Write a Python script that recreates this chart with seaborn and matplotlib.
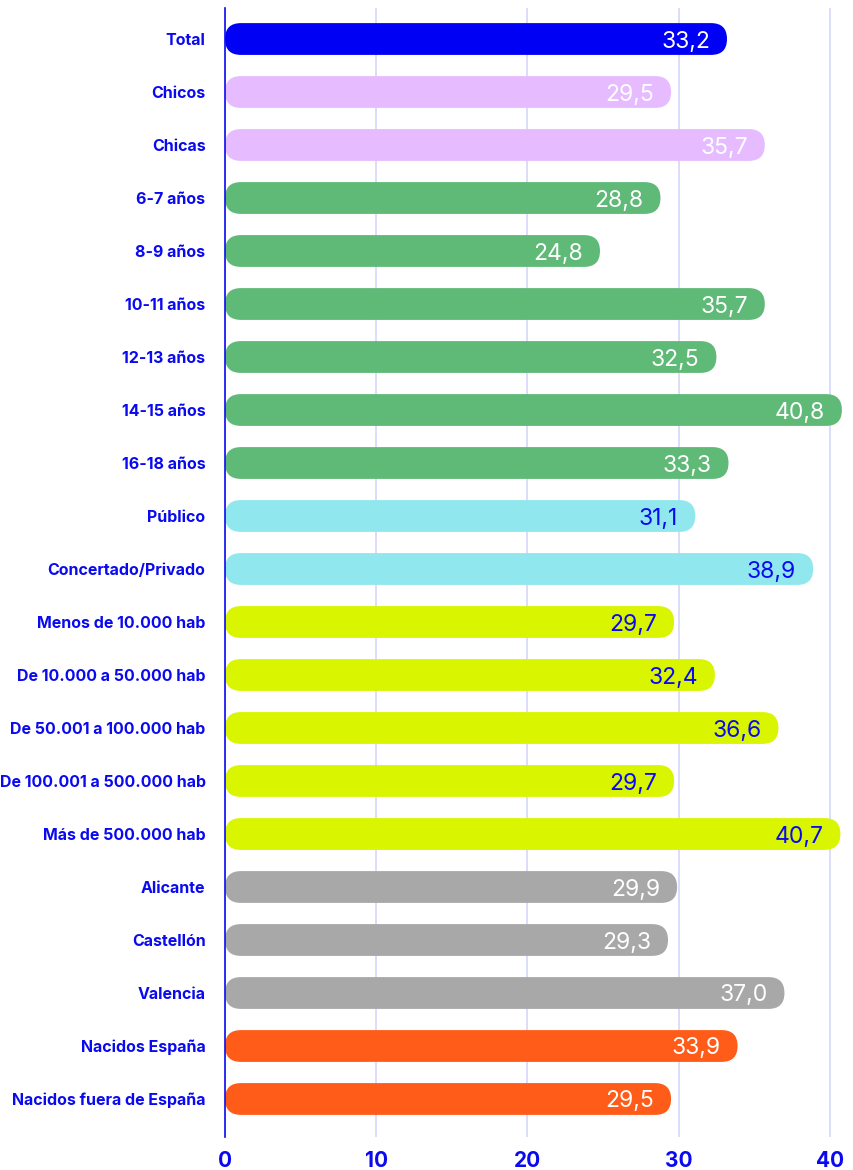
import matplotlib
matplotlib.use("Agg")
import matplotlib.pyplot as plt
from matplotlib.patches import FancyBboxPatch
import seaborn as sns
import pandas as pd

categories = [
    "Total", "Chicos", "Chicas",
    "6-7 años", "8-9 años", "10-11 años", "12-13 años", "14-15 años", "16-18 años",
    "Público", "Concertado/Privado",
    "Menos de 10.000 hab", "De 10.000 a 50.000 hab", "De 50.001 a 100.000 hab",
    "De 100.001 a 500.000 hab", "Más de 500.000 hab",
    "Alicante", "Castellón", "Valencia",
    "Nacidos España", "Nacidos fuera de España",
]
values = [
    33.2, 29.5, 35.7,
    28.8, 24.8, 35.7, 32.5, 40.8, 33.3,
    31.1, 38.9,
    29.7, 32.4, 36.6, 29.7, 40.7,
    29.9, 29.3, 37.0,
    33.9, 29.5,
]
groups = (["total"] + ["sexo"] * 2 + ["edad"] * 6 + ["centro"] * 2
          + ["habitat"] * 5 + ["provincia"] * 3 + ["origen"] * 2)
x_ticks = [0, 10, 20, 30, 40]

group_colors = {
    "total": "#0000f5",
    "sexo": "#e6bbff",
    "edad": "#5fb977",
    "centro": "#90e7ee",
    "habitat": "#d9f500",
    "provincia": "#a8a8a8",
    "origen": "#ff5b19",
}
label_colors = {
    "total": "white", "sexo": "white", "edad": "white",
    "centro": "#0a0af0", "habitat": "#0a0af0",
    "provincia": "white", "origen": "white",
}
BLUE = "#0a0af0"

df = pd.DataFrame({"categoria": categories, "valor": values, "grupo": groups})

sns.set_theme(style="white")
plt.rcParams["font.family"] = ["Inter", "DejaVu Sans"]

fig = plt.figure(figsize=(8.54, 11.70), dpi=100)
ax = fig.add_axes([225 / 854, 33 / 1170, 1 - 225 / 854, (1137 - 8) / 1170])

palette = [group_colors[g] for g in groups]
sns.barplot(data=df, x="valor", y="categoria", hue="categoria", palette=palette,
            orient="h", width=0.6, saturation=1, legend=False, ax=ax, zorder=3)

ax.set_xlim(0, 41.6)
ax.set_ylim(len(categories) - 1 + 0.717, -0.585)

# rounded bar ends: swap each rectangle for a rounded box of the same extent
fig.canvas.draw()
px_x = ax.transData.transform((1, 0))[0] - ax.transData.transform((0, 0))[0]
px_y = abs(ax.transData.transform((0, 1))[1] - ax.transData.transform((0, 0))[1])
aspect = px_x / px_y
for patch in list(ax.patches):
    x0, y0 = patch.get_x(), patch.get_y()
    w, h = patch.get_width(), patch.get_height()
    color = patch.get_facecolor()
    patch.set_visible(False)
    r = abs(h) / 2 / aspect
    ax.add_patch(FancyBboxPatch((x0, y0), w, h,
                                boxstyle=f"round,pad=0,rounding_size={r}",
                                mutation_aspect=aspect, facecolor=color,
                                edgecolor="none", zorder=3))

# value labels inside the bar ends
pad = 17 / px_x
for i, (v, g) in enumerate(zip(values, groups)):
    ax.text(v - pad, i, f"{v:.1f}".replace(".", ","), ha="right", va="center_baseline",
            fontsize=16.5, color=label_colors[g], zorder=4)

ax.set_xticks(x_ticks)
ax.set_xticklabels([str(t) for t in x_ticks])
ax.grid(axis="x", color="#d2d2fa", linewidth=1.1, zorder=0)
ax.grid(axis="y", visible=False)
for side in ["top", "right", "bottom"]:
    ax.spines[side].set_visible(False)
ax.spines["left"].set_color(BLUE)
ax.spines["left"].set_linewidth(1.2)
ax.spines["left"].set_zorder(5)

ax.tick_params(axis="y", length=0, pad=14, labelsize=11.5, labelcolor=BLUE)
ax.tick_params(axis="x", length=0, pad=10, labelsize=15, labelcolor=BLUE)
for lbl in ax.get_yticklabels() + ax.get_xticklabels():
    lbl.set_fontweight("bold")
ax.set_xlabel("")
ax.set_ylabel("")

fig.savefig("out.png", dpi=100)
